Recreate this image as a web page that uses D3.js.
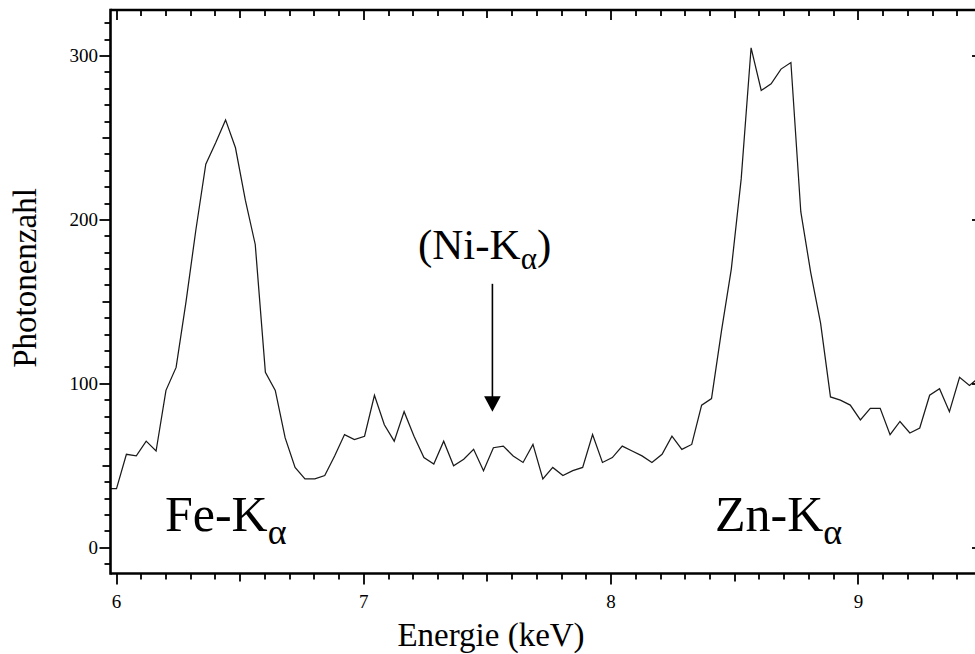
<!DOCTYPE html>
<html>
<head>
<meta charset="utf-8">
<script src="https://cdn.jsdelivr.net/npm/d3@7"></script>
<style>
  html, body { margin: 0; padding: 0; background: #fff; }
  svg { display: block; }
</style>
</head>
<body>
<svg id="chart" width="975" height="654"></svg>
<script>
// X-ray fluorescence spectrum: photon counts per energy channel (keV)
const energies = [
  5.960, 6.000, 6.040, 6.080, 6.120, 6.160, 6.200, 6.241, 6.281, 6.321,
  6.361, 6.401, 6.441, 6.481, 6.521, 6.561, 6.602, 6.642, 6.682, 6.722,
  6.762, 6.802, 6.842, 6.882, 6.922, 6.962, 7.003, 7.043, 7.083, 7.123,
  7.163, 7.203, 7.243, 7.283, 7.323, 7.363, 7.404, 7.444, 7.484, 7.524,
  7.564, 7.604, 7.644, 7.684, 7.724, 7.764, 7.805, 7.845, 7.885, 7.925,
  7.965, 8.005, 8.045, 8.085, 8.125, 8.165, 8.206, 8.246, 8.286, 8.326,
  8.366, 8.406, 8.446, 8.486, 8.526, 8.566, 8.607, 8.647, 8.687, 8.727,
  8.767, 8.807, 8.847, 8.887, 8.927, 8.967, 9.008, 9.048, 9.088, 9.128,
  9.168, 9.208, 9.248, 9.288, 9.328, 9.368, 9.409, 9.449, 9.489
];
const counts = [
  36, 36, 57, 56, 65, 59, 96, 110, 150, 194,
  234, 247, 261, 244, 212, 185, 107, 96, 67, 49,
  42, 42, 44, 56, 69, 66, 68, 93, 75, 65,
  83, 68, 55, 51, 65, 50, 54, 60, 47, 61,
  62, 56, 52, 63, 42, 49, 44, 47, 49, 69,
  52, 55, 62, 59, 56, 52, 57, 68, 60, 63,
  87, 91, 132, 170, 225, 305, 279, 283, 292, 296,
  205, 168, 137, 92, 90, 87, 78, 85, 85, 69,
  77, 70, 73, 93, 97, 83, 104, 99, 104
];
const xTickLabels = [6, 7, 8, 9];
const yTickLabels = [0, 100, 200, 300];

const xTitle = "Energie (keV)";
const yTitle = "Photonenzahl";
const lineLabels = [
  { name: "Fe-K", sub: "α", energy: 6.196, count: 10 },
  { name: "Zn-K", sub: "α", energy: 8.420, count: 10 }
];
const niLabel = { name: "(Ni-K", sub: "α", tail: ")", energy: 7.219, count: 176 };
const niArrow = { energy: 7.52, from: 161, to: 83 };

const svg = d3.select("#chart");
const frame = { left: 110.5, right: 977, top: 10, bottom: 573.5 };

const x = d3.scaleLinear().domain([5.9757, 9.4795]).range([frame.left, frame.right]);
const y = d3.scaleLinear().domain([-15.74, 328.06]).range([frame.bottom, frame.top]);

const serif = "'Liberation Serif', 'Times New Roman', serif";

// clip for the spectrum trace
svg.append("defs").append("clipPath").attr("id", "plot-clip")
  .append("rect")
  .attr("x", frame.left).attr("y", frame.top)
  .attr("width", frame.right - frame.left).attr("height", frame.bottom - frame.top);

// spectrum trace
const data = energies.map((e, i) => ({ e, c: counts[i] }));
svg.append("path")
  .datum(data)
  .attr("clip-path", "url(#plot-clip)")
  .attr("fill", "none")
  .attr("stroke", "#1a1a1a")
  .attr("stroke-width", 1.25)
  .attr("stroke-linejoin", "miter")
  .attr("d", d3.line().x(d => x(d.e)).y(d => y(d.c)));

// frame lines
const frameG = svg.append("g").attr("stroke", "#000").attr("stroke-width", 2.6);
frameG.append("line").attr("x1", frame.left).attr("x2", frame.left).attr("y1", frame.top - 1.3).attr("y2", frame.bottom + 1.3);
frameG.append("line").attr("x1", frame.left).attr("x2", frame.right).attr("y1", frame.top).attr("y2", frame.top);
frameG.append("line").attr("x1", frame.left).attr("x2", frame.right).attr("y1", frame.bottom).attr("y2", frame.bottom);
frameG.append("line").attr("x1", frame.right).attr("x2", frame.right).attr("y1", frame.top).attr("y2", frame.bottom);

// tick marks: every 0.1 keV / 10 counts; longer at halves and whole units
const xTickVals = d3.range(60, 95).map(d => ({ v: d / 10, k: d % 10 === 0 ? 2 : d % 5 === 0 ? 1 : 0 }));
const yTickVals = d3.range(-1, 33).map(d => ({ v: d * 10, k: d % 10 === 0 ? 2 : d % 5 === 0 ? 1 : 0 }));
const outLen = [6, 8, 11];
const inLen = [6, 8, 10];

const tickG = svg.append("g").attr("stroke", "#000").attr("stroke-width", 1.8);

// bottom (outward)
tickG.selectAll("line.xb").data(xTickVals).join("line").attr("class", "xb")
  .attr("x1", d => Math.round(x(d.v))).attr("x2", d => Math.round(x(d.v)))
  .attr("y1", frame.bottom).attr("y2", d => frame.bottom + outLen[d.k]);
// top (inward)
tickG.selectAll("line.xt").data(xTickVals).join("line").attr("class", "xt")
  .attr("x1", d => Math.round(x(d.v))).attr("x2", d => Math.round(x(d.v)))
  .attr("y1", frame.top).attr("y2", d => frame.top + inLen[d.k]);
// left (outward)
tickG.selectAll("line.yl").data(yTickVals).join("line").attr("class", "yl")
  .attr("y1", d => Math.round(y(d.v))).attr("y2", d => Math.round(y(d.v)))
  .attr("x1", frame.left).attr("x2", d => frame.left - outLen[d.k]);
// right (inward, whole hundreds only)
tickG.selectAll("line.yr").data(yTickLabels).join("line").attr("class", "yr")
  .attr("y1", d => Math.round(y(d))).attr("y2", d => Math.round(y(d)))
  .attr("x1", frame.right).attr("x2", frame.right - 5);

// tick labels
svg.append("g").selectAll("text").data(xTickLabels).join("text")
  .attr("x", d => x(d)).attr("y", 608)
  .attr("text-anchor", "middle")
  .attr("font-family", serif).attr("font-size", 19)
  .text(d => d);
svg.append("g").selectAll("text").data(yTickLabels).join("text")
  .attr("x", frame.left - 12.5).attr("y", d => y(d))
  .attr("dy", "0.34em")
  .attr("text-anchor", "end")
  .attr("font-family", serif).attr("font-size", 19)
  .text(d => d);

// axis titles
svg.append("text")
  .attr("x", 491).attr("y", 646)
  .attr("text-anchor", "middle")
  .attr("font-family", serif).attr("font-size", 33)
  .text(xTitle);

svg.append("text")
  .attr("transform", "translate(36,278) rotate(-90)")
  .attr("text-anchor", "middle")
  .attr("font-family", serif).attr("font-size", 33)
  .text(yTitle);

// emission line labels
lineLabels.forEach(l => {
  const t = svg.append("text")
    .attr("x", x(l.energy)).attr("y", y(l.count))
    .attr("font-family", serif).attr("font-size", 50);
  t.append("tspan").text(l.name);
  t.append("tspan").attr("font-size", 36).attr("dy", 13).text(l.sub);
});

// Ni marker label and arrow
{
  const t = svg.append("text")
    .attr("x", x(niLabel.energy)).attr("y", y(niLabel.count))
    .attr("font-family", serif).attr("font-size", 43);
  t.append("tspan").text(niLabel.name);
  t.append("tspan").attr("font-size", 31).attr("dy", 10).text(niLabel.sub);
  t.append("tspan").attr("dy", -10).text(niLabel.tail);

  const ax = x(niArrow.energy);
  const tipY = y(niArrow.to);
  const headH = 15.5, headW = 8.3;
  svg.append("line")
    .attr("x1", ax).attr("x2", ax)
    .attr("y1", y(niArrow.from)).attr("y2", tipY - headH + 1)
    .attr("stroke", "#000").attr("stroke-width", 1.6);
  svg.append("path")
    .attr("d", `M${ax - headW},${tipY - headH} L${ax + headW},${tipY - headH} L${ax},${tipY} Z`)
    .attr("fill", "#000");
}
</script>
</body>
</html>
